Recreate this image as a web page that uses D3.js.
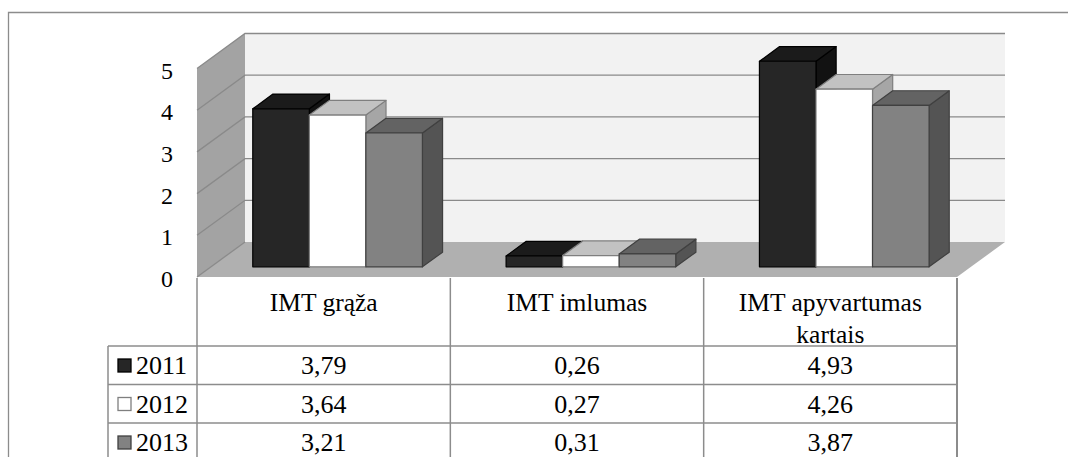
<!DOCTYPE html>
<html>
<head>
<meta charset="utf-8">
<script src="https://cdn.jsdelivr.net/npm/d3@7"></script>
</head>
<body style="margin:0">
<svg id="chart" width="1068" height="457"></svg>
<script>
// Indicators and yearly values
const categories = ["IMT grąža", "IMT imlumas", "IMT apyvartumas kartais"];
const years = ["2011", "2012", "2013"];
const values2011 = [3.79, 0.26, 4.93];
const values2012 = [3.64, 0.27, 4.26];
const values2013 = [3.21, 0.31, 3.87];
const yTicks = [0, 1, 2, 3, 4, 5];

const seriesValues = [values2011, values2012, values2013];

// Bar colours per year: front, top, side, outline
const palette = [
  { front: "#262626", top: "#1b1b1b", side: "#121212", stroke: "#000000" },
  { front: "#ffffff", top: "#c2c2c2", side: "#a6a6a6", stroke: "#7f7f7f" },
  { front: "#828282", top: "#636363", side: "#545454", stroke: "#404040" }
];

const svg = d3.select("#chart");
const W = 1068, H = 457;

// Serif text: set at 30px and scaled down to the wanted size
const BASE = 30;
function label(parent, px, py, size, anchor, str) {
  return parent.append("text")
    .attr("transform", `translate(${px},${py}) scale(${size / BASE})`)
    .attr("x", 0).attr("y", 0)
    .attr("text-anchor", anchor)
    .attr("font-size", BASE)
    .style("font-family", '"Liberation Serif"')
    .text(str);
}

// Plot area (front plane of the floor) and the oblique depth vector
const left = 197, right = 957, floorY = 277;
const depthX = 48, depthY = 35;
const barZ0 = 0.29, barZ1 = 0.71;

const x = d3.scaleBand().domain(categories).range([left, right]);
const xs = d3.scaleBand().domain(years).range([0, x.bandwidth()]).paddingOuter(0.74);
const y = d3.scaleLinear().domain([0, 5]).range([floorY, floorY - 5 * 41.7]);

const P = (px, v, z) => [px + z * depthX, y(v) - z * depthY];
const poly = pts => "M" + pts.map(p => p.join(",")).join("L") + "Z";

const grid = "#8a8a8a";

// Outer frame (left and top edges)
svg.append("path")
  .attr("d", `M8.5,${H}V12.5H${W}`)
  .attr("fill", "none").attr("stroke", "#8c8c8c").attr("stroke-width", 1.3);

// Back wall
svg.append("path")
  .attr("d", poly([P(left, 0, 1), P(left, 5, 1), P(right, 5, 1), P(right, 0, 1)]))
  .attr("fill", "#f2f2f2");

// Side wall
svg.append("path")
  .attr("d", poly([P(left, 0, 0), P(left, 5, 0), P(left, 5, 1), P(left, 0, 1)]))
  .attr("fill", "#a3a3a3");

// Gridlines on side and back walls
yTicks.filter(t => t > 0).forEach(t => {
  svg.append("path")
    .attr("d", "M" + [P(left, t, 0), P(left, t, 1), P(right, t, 1)].map(p => p.join(",")).join("L"))
    .attr("fill", "none").attr("stroke", grid).attr("stroke-width", 1.3);
});

// Floor
svg.append("path")
  .attr("d", poly([P(left, 0, 0), P(left, 0, 1), P(right, 0, 1), P(right, 0, 0)]))
  .attr("fill", "#b0b0b0");
svg.append("path")
  .attr("d", "M" + [P(left, 0, 0), P(left, 0, 1)].map(p => p.join(",")).join("L"))
  .attr("stroke", grid).attr("stroke-width", 1.3);

// Y axis tick labels
yTicks.forEach(t => label(svg, 173, y(t) + 10, 24, "end", t));

// 3D bars, drawn left to right
const bars = svg.append("g");
categories.forEach((cat, ci) => {
  years.forEach((yr, si) => {
    const v = seriesValues[si][ci];
    const x0 = x(cat) + xs(yr), x1 = x0 + xs.bandwidth();
    const c = palette[si];
    const g = bars.append("g").attr("stroke", c.stroke).attr("stroke-width", 1.2).attr("stroke-linejoin", "round");
    g.append("path").attr("fill", c.side)
      .attr("d", poly([P(x1, 0, barZ0), P(x1, v, barZ0), P(x1, v, barZ1), P(x1, 0, barZ1)]));
    g.append("path").attr("fill", c.top)
      .attr("d", poly([P(x0, v, barZ0), P(x0, v, barZ1), P(x1, v, barZ1), P(x1, v, barZ0)]));
    g.append("path").attr("fill", c.front)
      .attr("d", poly([P(x0, 0, barZ0), P(x0, v, barZ0), P(x1, v, barZ0), P(x1, 0, barZ0)]));
  });
});

// Data table under the chart
const tableTop = floorY + 1, headerBottom = 346, rowH = 38.5;
const keyLeft = 108;
const fmt = d3.formatLocale({ decimal: ",", thousands: " ", grouping: [3], currency: ["", ""] }).format(".2f");
const tline = "#8c8c8c";

// Vertical column lines
[left, ...categories.map(c => x(c) + x.bandwidth())].forEach((cx, i, arr) => {
  svg.append("line")
    .attr("x1", cx).attr("x2", cx).attr("y1", tableTop).attr("y2", H)
    .attr("stroke", tline).attr("stroke-width", i === arr.length - 1 ? 2 : 1.5);
});
svg.append("line")
  .attr("x1", keyLeft).attr("x2", keyLeft).attr("y1", headerBottom).attr("y2", H)
  .attr("stroke", tline).attr("stroke-width", 1.5);
years.forEach((yr, si) => {
  const ty = headerBottom + si * rowH;
  svg.append("line")
    .attr("x1", keyLeft).attr("x2", right).attr("y1", ty).attr("y2", ty)
    .attr("stroke", tline).attr("stroke-width", 1.5);
});

// Header labels, wrapped to the column width
categories.forEach(cat => {
  const cx = x(cat) + x.bandwidth() / 2;
  const words = cat.split(" ");
  const lines = [[]];
  words.forEach(w => {
    const cur = lines[lines.length - 1];
    // rough width estimate for wrapping: ~0.46em per character
    if (cur.length && (cur.join(" ") + " " + w).length * 0.46 * 25.5 > x.bandwidth() - 30) lines.push([w]);
    else cur.push(w);
  });
  lines.forEach((ln, li) => label(svg, cx, 311 + li * 32, 25.5, "middle", ln.join(" ")));
});

// Rows: legend key, year and formatted values
years.forEach((yr, si) => {
  const ty = headerBottom + si * rowH;
  const c = palette[si];
  svg.append("rect")
    .attr("x", 118).attr("y", ty + 13).attr("width", 13).attr("height", 13)
    .attr("fill", c.front).attr("stroke", c.stroke).attr("stroke-width", 1.3);
  label(svg, 136, ty + 28, 26, "start", yr);
  categories.forEach((cat, ci) => {
    label(svg, x(cat) + x.bandwidth() / 2, ty + 28, 26, "middle", fmt(seriesValues[si][ci]));
  });
});
</script>
</body>
</html>
